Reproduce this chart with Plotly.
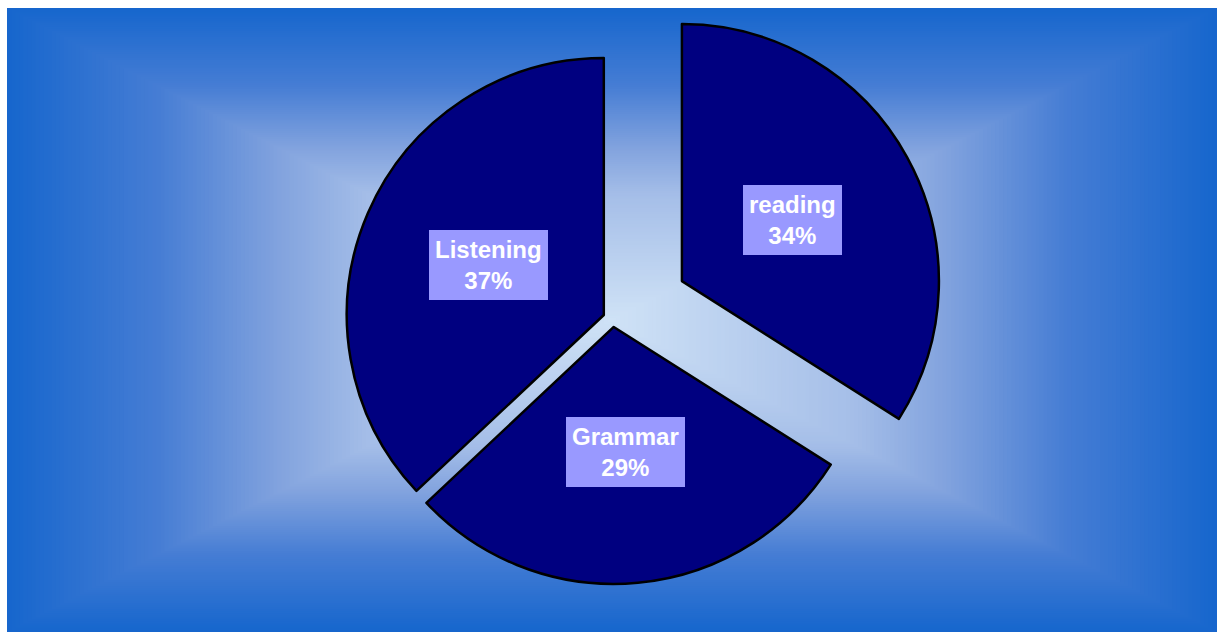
import plotly.graph_objects as go
import numpy as np

# ---- data ----
labels = ["reading", "Grammar", "Listening"]
values = [34, 29, 37]

# ---- style / layout constants ----
W, H = 1217, 632
SLICE_COLOR = "#000080"
LABEL_BG = "#9999ff"
PULLS = [0.306, 0.031, 0.039]      # explode amount (fraction of radius)
CENTER_PX = (613, 319)              # un-exploded pie centre (pixels)
R_PX = 257                          # pie radius (pixels)
LABEL_FRAC = 0.49                   # label distance along bisector (fraction of radius)

total = sum(values)
fracs = [v / total for v in values]

fig = go.Figure()

# ---- rectangular gradient background ----
bg_left, bg_top = 7, 8
cx_bg, cy_bg = (bg_left + W) / 2, (bg_top + H) / 2
hw, hh = (W - bg_left) / 2, (H - bg_top) / 2
stops = [(0.0, (22, 102, 205)), (0.25, (70, 125, 212)), (0.45, (130, 163, 222)),
         (0.6, (165, 190, 232)), (1.0, (207, 226, 246))]


def grad_color(f):
    for (f0, c0), (f1, c1) in zip(stops[:-1], stops[1:]):
        if f <= f1:
            t = (f - f0) / (f1 - f0)
            return "rgb(%d,%d,%d)" % tuple(round(a + (b - a) * t) for a, b in zip(c0, c1))
    return "rgb(%d,%d,%d)" % stops[-1][1]


shapes = []
N = 150
for k in range(N):
    f = k / N
    x0 = cx_bg - (1 - f) * hw
    x1 = cx_bg + (1 - f) * hw
    y0 = cy_bg - (1 - f) * hh
    y1 = cy_bg + (1 - f) * hh
    shapes.append(dict(type="rect", xref="paper", yref="paper",
                       x0=x0 / W, x1=x1 / W, y0=1 - y1 / H, y1=1 - y0 / H,
                       fillcolor=grad_color(f + 0.5 / N), line=dict(width=0),
                       layer="below"))

# ---- exploded pie: one trace per visible slice ----
annotations = []
start = 0.0
for i in range(len(values)):
    theta = np.radians((start + fracs[i] / 2) * 360)
    start += fracs[i]
    dx, dy = np.sin(theta), np.cos(theta)
    pcx = CENTER_PX[0] + PULLS[i] * R_PX * dx
    pcy = CENTER_PX[1] - PULLS[i] * R_PX * dy
    fills = [SLICE_COLOR if j == i else "rgba(0,0,0,0)" for j in range(len(values))]
    lines = ["black" if j == i else "rgba(0,0,0,0)" for j in range(len(values))]
    fig.add_trace(go.Pie(
        labels=labels, values=values, sort=False, direction="clockwise", rotation=0,
        domain=dict(x=[(pcx - R_PX) / W, (pcx + R_PX) / W],
                    y=[1 - (pcy + R_PX) / H, 1 - (pcy - R_PX) / H]),
        marker=dict(colors=fills, line=dict(color=lines, width=2.5)),
        textinfo="none", hoverinfo="label+percent", showlegend=False,
    ))
    lx = pcx + LABEL_FRAC * R_PX * dx
    ly = pcy - LABEL_FRAC * R_PX * dy
    pct = "%d%%" % round(100 * fracs[i])
    annotations.append(dict(
        x=lx / W, y=1 - ly / H, xref="paper", yref="paper",
        xanchor="center", yanchor="middle", showarrow=False,
        text="<b>%s</b><br><b>%s</b>" % (labels[i], pct),
        font=dict(family="Liberation Sans, Arial, sans-serif", size=24, color="white"),
        bgcolor=LABEL_BG, borderpad=5, borderwidth=1, bordercolor=LABEL_BG,
    ))

fig.update_layout(
    width=W, height=H, margin=dict(l=0, r=0, t=0, b=0),
    paper_bgcolor="white", plot_bgcolor="white",
    shapes=shapes, annotations=annotations, showlegend=False,
)

fig.write_html("out.html")
